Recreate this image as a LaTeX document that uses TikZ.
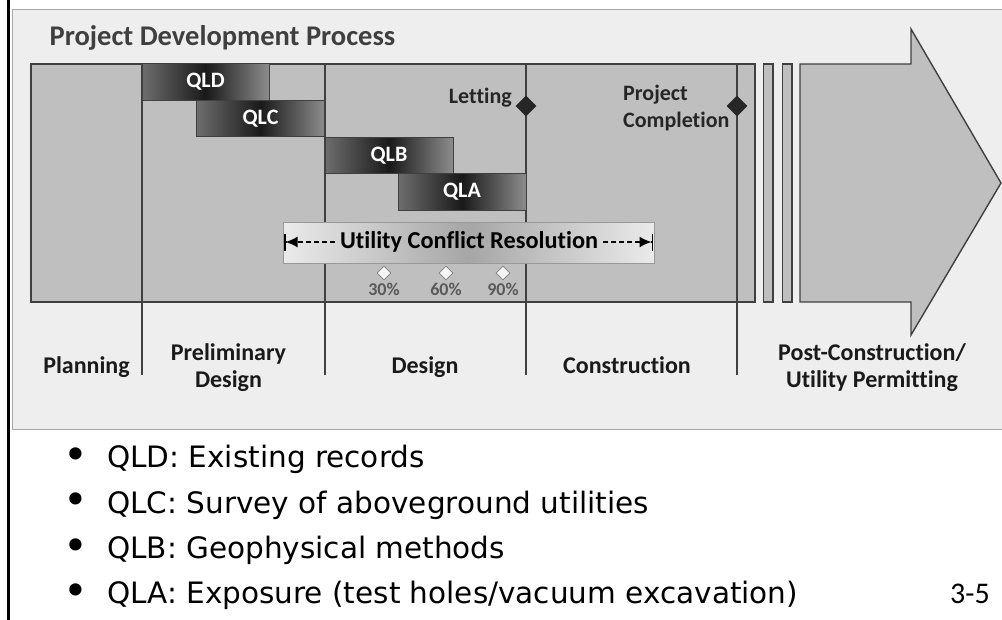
\documentclass[tikz,border=0pt]{standalone}
\usepackage{fontspec}
\setmainfont{Carlito}[Ligatures=NoCommon]
\newfontfamily\bulletfont{DejaVu Sans}
\usetikzlibrary{arrows.meta,shapes.geometric}
\definecolor{panelbg}{HTML}{EEEEEE}
\definecolor{panelline}{HTML}{A6A6A6}
\definecolor{mainfill}{HTML}{BFBFBF}
\definecolor{darkline}{HTML}{404040}
\definecolor{titlecol}{HTML}{3F3F3F}
\definecolor{labelcol}{HTML}{1A1A1A}
\definecolor{pctcol}{HTML}{595959}
\definecolor{milecol}{HTML}{262626}
\tikzset{
  grayblock/.style={draw=darkline, line width=1.4pt, fill=mainfill},
  divider/.style={draw=darkline, line width=1.2pt},
  qlbar/.style={draw=darkline, line width=0.8pt, left color=black!57, right color=black!45, middle color=black!90,
    minimum height=36.5pt, inner sep=0pt, text=white, font=\fontsize{22}{26}\selectfont\bfseries},
  milestone/.style={diamond, aspect=1, fill=milecol, minimum width=21pt, minimum height=21pt, inner sep=0pt},
  pctdia/.style={diamond, aspect=1, draw=black!50, line width=0.7pt, fill=white!96!black, minimum width=14pt, minimum height=14pt, inner sep=0pt},
  pcttext/.style={font=\fontsize{18}{20}\selectfont\bfseries, text=pctcol, inner sep=0pt},
  smalllbl/.style={font=\fontsize{22}{27}\selectfont\bfseries, text=milecol, inner sep=0pt},
  phaselbl/.style={font=\fontsize{24}{27}\selectfont\bfseries, text=labelcol, inner sep=0pt, align=center},
  ucrarrow/.style={line width=1.7pt, dash pattern=on 5pt off 3pt, -{Latex[length=12pt,width=11pt]Bar[width=17pt,line width=1.5pt]}},
  bulletdot/.style={font=\bulletfont\fontsize{42}{42}\selectfont, inner sep=0pt},
  bullettext/.style={font=\bulletfont\fontsize{29.5}{34}\selectfont, inner sep=0pt, anchor=base west},
}
\begin{document}
\begin{tikzpicture}[x=1pt,y=-1pt]
\useasboundingbox (0,0) rectangle (1002,619);
\fill[white] (0,0) rectangle (1002,619);
% page frame line
\draw[line width=3pt, black] (8,-2) -- (8,621);
% light panel
\draw[draw=panelline, fill=panelbg, line width=1pt] (12.5,9) rectangle (1012,429.5);
% title
\node[anchor=base west, font=\fontsize{28.5}{32}\selectfont\bfseries, text=titlecol, inner sep=0pt] (title) at (49.5,45.7) {Project Development Process};
% main gray block
\draw[grayblock] (31,64) rectangle (755,302);
\draw[grayblock] (763.5,64) rectangle (773,302);
\draw[grayblock] (782.5,64) rectangle (792,302);
\draw[grayblock] (800,64) -- (911,64) -- (911,29) -- (1001,183) -- (911,335) -- (911,302) -- (800,302) -- cycle;
% dividers
\draw[divider] (142,64) -- (142,375);
\draw[divider] (325,64) -- (325,375);
\draw[divider] (526,64) -- (526,375);
\draw[divider] (737,64) -- (737,375);
% QL bars
\node[qlbar, minimum width=127pt] (qld) at (205.5,82) {QLD};
\node[qlbar, minimum width=128.5pt] (qlc) at (260.5,118.5) {QLC};
\node[qlbar, minimum width=128pt] (qlb) at (389,155.5) {QLB};
\node[qlbar, minimum width=128pt] (qla) at (462,192) {QLA};
% milestones
\node[milestone] (letdia) at (526,106) {};
\node[smalllbl, anchor=base east] (lettxt) at (512,103) {Letting};
\node[milestone] (pcdia) at (737,106) {};
\node[smalllbl, align=left, anchor=west] (pctxt) at (623,108.5) {Project\\Completion};
% utility conflict resolution
\node[draw=black!40, line width=0.8pt, left color=white!92!black, right color=white!92!black, middle color=black!35,
  minimum width=371pt, minimum height=41pt, inner sep=0pt] (ucrbox) at (468.5,242.5) {};
\node[font=\fontsize{24.3}{28}\selectfont\bfseries, text=black, inner sep=0pt] (ucr) at (469,242) {Utility Conflict Resolution};
\coordinate (ucrL) at (284,242);
\coordinate (ucrR) at (653,242);
\draw[ucrarrow] ([xshift=-5pt]ucr.west) -- (ucrL);
\draw[ucrarrow] ([xshift=5pt]ucr.east) -- (ucrR);
% percent marks
\node[pctdia] (d30) at (384,273) {};
\node[pctdia] (d60) at (446,273) {};
\node[pctdia] (d90) at (503,273) {};
\node[pcttext] (t30) at (384,289.5) {30\%};
\node[pcttext] (t60) at (446,289.5) {60\%};
\node[pcttext] (t90) at (503,289.5) {90\%};
% phase labels
\node[phaselbl, anchor=base] (planning) at (86.5,373) {Planning};
\node[phaselbl] (prelim) at (228.5,368) {Preliminary\\Design};
\node[phaselbl, anchor=base] (design) at (425,373) {Design};
\node[phaselbl, anchor=base] (constr) at (627,373) {Construction};
\node[phaselbl] (post) at (872,368) {Post-Construction/\\Utility Permitting};
% bullets
\node[bulletdot] (bd1) at (76,458.5) {•};
\node[bulletdot] (bd2) at (76,504) {•};
\node[bulletdot] (bd3) at (76,549.5) {•};
\node[bulletdot] (bd4) at (76,594.5) {•};
\node[bullettext] (bt1) at (107,467.5) {QLD: Existing records};
\node[bullettext] (bt2) at (107,513) {QLC: Survey of aboveground utilities};
\node[bullettext] (bt3) at (107,558.5) {QLB: Geophysical methods};
\node[bullettext] (bt4) at (107,603.5) {QLA: Exposure (test holes/vacuum excavation)};
\node[anchor=base west, font=\fontsize{30}{34}\selectfont, inner sep=0pt] (pageno) at (950,603) {3-5};
\end{tikzpicture}
\end{document}
